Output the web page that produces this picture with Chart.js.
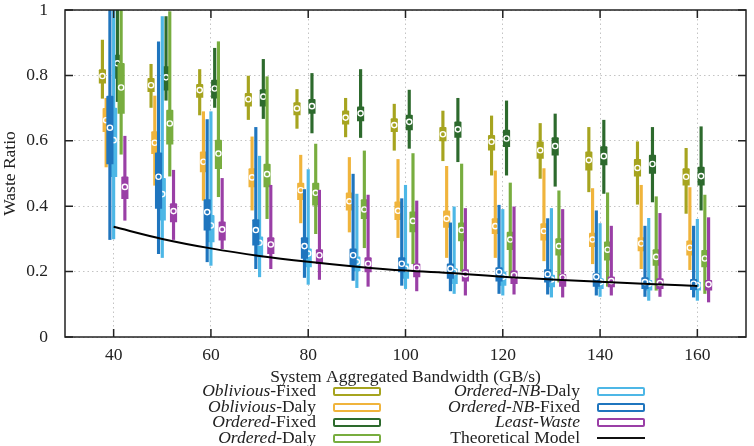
<!DOCTYPE html>
<html>
<head>
<meta charset="utf-8">
<script src="https://cdn.jsdelivr.net/npm/chart.js@4/dist/chart.umd.min.js"></script>
<style>
  body { margin: 0; background: #fff; }
  #wrap { position: relative; width: 754px; height: 446px; }
  #chart { position: absolute; left: 0; top: 0; }
  .lt { position: absolute; left: 0; text-align: right; font: 17.5px "Liberation Serif", "DejaVu Serif", serif; color: #222; line-height: 16px; white-space: nowrap; }
  .sw { position: absolute; width: 44px; height: 5px; border: 2px solid; border-radius: 2px; background: #fff; }
  .ln { position: absolute; width: 48px; height: 2px; background: #111; }
</style>
</head>
<body>
<div id="wrap">
  <canvas id="chart" width="754" height="446"></canvas>
  <div id="legend"></div>
</div>
<script>
// ---------- Data ----------
const xGroups = [40, 50, 60, 70, 80, 90, 100, 110, 120, 130, 140, 150, 160];
const xTicks = [40, 60, 80, 100, 120, 140, 160];
const yTicks = [0, 0.2, 0.4, 0.6, 0.8, 1];

// each entry: [min, q1, median, q3, max]
const obliviousFixed = [
  [0.730, 0.776, 0.798, 0.818, 0.908], [0.702, 0.750, 0.770, 0.791, 0.834], [0.679, 0.733, 0.755, 0.773, 0.818],
  [0.665, 0.706, 0.727, 0.745, 0.798], [0.638, 0.679, 0.699, 0.717, 0.757], [0.612, 0.651, 0.671, 0.692, 0.730],
  [0.571, 0.628, 0.648, 0.668, 0.712], [0.539, 0.600, 0.620, 0.641, 0.691], [0.495, 0.571, 0.597, 0.617, 0.676],
  [0.485, 0.546, 0.571, 0.597, 0.653], [0.444, 0.510, 0.541, 0.566, 0.641], [0.406, 0.492, 0.517, 0.543, 0.597],
  [0.378, 0.464, 0.490, 0.515, 0.577]
];
const obliviousDaly = [
  [0.520, 0.628, 0.663, 0.699, 0.730], [0.464, 0.561, 0.594, 0.628, 0.737], [0.418, 0.505, 0.536, 0.566, 0.689],
  [0.388, 0.459, 0.488, 0.515, 0.612], [0.349, 0.420, 0.449, 0.471, 0.556], [0.321, 0.388, 0.415, 0.441, 0.549],
  [0.304, 0.359, 0.386, 0.413, 0.543], [0.243, 0.335, 0.362, 0.386, 0.522], [0.243, 0.316, 0.339, 0.362, 0.508],
  [0.233, 0.296, 0.324, 0.347, 0.515], [0.224, 0.276, 0.298, 0.318, 0.454], [0.209, 0.263, 0.286, 0.304, 0.464],
  [0.206, 0.250, 0.273, 0.294, 0.457]
];
const orderedFixed = [
  [0.720, 0.791, 0.837, 0.862, 1.050], [0.724, 0.755, 0.794, 0.827, 0.980], [0.702, 0.730, 0.760, 0.786, 0.883],
  [0.668, 0.706, 0.735, 0.757, 0.849], [0.624, 0.684, 0.706, 0.727, 0.806], [0.610, 0.661, 0.684, 0.704, 0.818],
  [0.577, 0.633, 0.658, 0.679, 0.755], [0.536, 0.610, 0.635, 0.658, 0.730], [0.495, 0.582, 0.607, 0.633, 0.722],
  [0.461, 0.556, 0.584, 0.610, 0.682], [0.439, 0.526, 0.553, 0.582, 0.663], [0.413, 0.500, 0.529, 0.556, 0.641],
  [0.388, 0.464, 0.492, 0.520, 0.643]
];
const orderedDaly = [
  [0.559, 0.684, 0.763, 0.837, 1.050], [0.492, 0.590, 0.653, 0.694, 0.995], [0.429, 0.515, 0.561, 0.602, 0.903],
  [0.362, 0.459, 0.498, 0.529, 0.796], [0.316, 0.403, 0.441, 0.471, 0.590], [0.273, 0.362, 0.390, 0.420, 0.569],
  [0.224, 0.321, 0.355, 0.383, 0.561], [0.202, 0.294, 0.327, 0.349, 0.529], [0.186, 0.267, 0.298, 0.321, 0.471],
  [0.168, 0.250, 0.278, 0.301, 0.447], [0.155, 0.235, 0.267, 0.291, 0.441], [0.143, 0.219, 0.245, 0.267, 0.429],
  [0.133, 0.214, 0.240, 0.265, 0.434]
];
const orderedNbDaly = [
  [0.300, 0.490, 0.602, 0.700, 1.050], [0.243, 0.357, 0.437, 0.485, 0.980], [0.219, 0.291, 0.341, 0.372, 0.689],
  [0.184, 0.245, 0.288, 0.306, 0.553], [0.161, 0.214, 0.255, 0.270, 0.512], [0.151, 0.202, 0.230, 0.245, 0.437],
  [0.148, 0.179, 0.209, 0.224, 0.464], [0.133, 0.163, 0.199, 0.209, 0.398], [0.128, 0.158, 0.184, 0.199, 0.390],
  [0.122, 0.153, 0.176, 0.189, 0.393], [0.124, 0.148, 0.168, 0.179, 0.347], [0.112, 0.143, 0.163, 0.173, 0.363],
  [0.112, 0.143, 0.158, 0.168, 0.360]
];
const orderedNbFixed = [
  [0.298, 0.529, 0.640, 0.737, 1.050], [0.255, 0.393, 0.490, 0.563, 0.903], [0.230, 0.327, 0.382, 0.420, 0.665],
  [0.209, 0.281, 0.327, 0.359, 0.641], [0.182, 0.240, 0.278, 0.304, 0.451], [0.173, 0.219, 0.250, 0.270, 0.498],
  [0.158, 0.199, 0.224, 0.243, 0.423], [0.141, 0.179, 0.209, 0.224, 0.349], [0.133, 0.171, 0.199, 0.212, 0.403],
  [0.131, 0.168, 0.192, 0.206, 0.362], [0.128, 0.155, 0.184, 0.194, 0.386], [0.124, 0.148, 0.168, 0.182, 0.339],
  [0.122, 0.145, 0.163, 0.176, 0.339]
];
const leastWaste = [
  [0.357, 0.423, 0.459, 0.490, 0.614], [0.298, 0.352, 0.385, 0.408, 0.510], [0.270, 0.296, 0.329, 0.352, 0.485],
  [0.209, 0.255, 0.283, 0.304, 0.464], [0.176, 0.224, 0.250, 0.267, 0.449], [0.155, 0.199, 0.224, 0.243, 0.434],
  [0.141, 0.184, 0.212, 0.224, 0.416], [0.128, 0.171, 0.192, 0.206, 0.393], [0.131, 0.163, 0.189, 0.202, 0.398],
  [0.122, 0.155, 0.182, 0.192, 0.390], [0.128, 0.153, 0.171, 0.184, 0.339], [0.124, 0.148, 0.165, 0.179, 0.378],
  [0.107, 0.143, 0.161, 0.173, 0.365]
];
const theoreticalModel = [0.337, 0.300, 0.271, 0.248, 0.230, 0.215, 0.203, 0.195, 0.184, 0.176, 0.169, 0.162, 0.156];

// legend order
const seriesStats = [obliviousFixed, obliviousDaly, orderedFixed, orderedDaly, orderedNbDaly, orderedNbFixed, leastWaste];
const seriesItalic = ["Oblivious", "Oblivious", "Ordered", "Ordered", "Ordered-NB", "Ordered-NB", "Least-Waste"];
const seriesSuffix = ["-Fixed", "-Daly", "-Fixed", "-Daly", "-Daly", "-Fixed", ""];
const seriesColors = ["#a6a41f", "#f0b43c", "#2d6a2d", "#78ad3f", "#4db7e6", "#1f75be", "#9a3fa6"];
const seriesSlot = [-3, -2, 1, 2, 0, -1, 3];   // position inside a group
const slotStep = 0.77;

// ---------- Datasets ----------
const datasets = [];
seriesStats.forEach((stats, k) => {
  const off = seriesSlot[k] * slotStep;
  const base = (7 - k) * 10;
  const label = seriesItalic[k] + seriesSuffix[k];
  datasets.push({
    type: "bar", label, grouped: false, barThickness: 2.5,
    backgroundColor: seriesColors[k], order: base + 3,
    data: xGroups.map((g, i) => ({ x: g + off, y: [stats[i][0], stats[i][4]] }))
  });
  datasets.push({
    type: "bar", label, grouped: false, barThickness: 6.5, borderRadius: 1,
    backgroundColor: seriesColors[k], order: base + 2,
    data: xGroups.map((g, i) => ({ x: g + off, y: [stats[i][1], stats[i][3]] }))
  });
  datasets.push({
    type: "scatter", label, order: base + 1,
    pointRadius: 2.6, pointBorderWidth: 1.4, pointBorderColor: "#fff", pointBackgroundColor: seriesColors[k],
    data: xGroups.map((g, i) => ({ x: g + off, y: stats[i][2] }))
  });
});
datasets.push({
  type: "line", label: "Theoretical Model", order: 0,
  borderColor: "#000", borderWidth: 2, pointRadius: 0, cubicInterpolationMode: "monotone",
  data: xGroups.map((g, i) => ({ x: g, y: theoreticalModel[i] }))
});

// ---------- Frame with inward ticks ----------
const frame = {
  id: "frame",
  afterDatasetsDraw(chart) {
    const { ctx, chartArea: a, scales: { x, y } } = chart;
    ctx.save();
    ctx.strokeStyle = "#222";
    ctx.lineWidth = 1.5;
    ctx.beginPath();
    x.ticks.forEach(t => {
      const px = x.getPixelForValue(t.value);
      ctx.moveTo(px, a.bottom); ctx.lineTo(px, a.bottom - 8);
      ctx.moveTo(px, a.top); ctx.lineTo(px, a.top + 8);
    });
    y.ticks.forEach(t => {
      const py = y.getPixelForValue(t.value);
      ctx.moveTo(a.left, py); ctx.lineTo(a.left + 8, py);
      ctx.moveTo(a.right, py); ctx.lineTo(a.right - 8, py);
    });
    ctx.stroke();
    ctx.strokeRect(a.left, a.top, a.width, a.height);
    ctx.restore();
  }
};

const serif = "'Liberation Serif', 'DejaVu Serif', serif";
Chart.defaults.font.family = serif;
Chart.defaults.font.size = 17.5;
Chart.defaults.color = "#222";

new Chart(document.getElementById("chart"), {
  type: "bar",
  data: { datasets },
  options: {
    responsive: false,
    animation: false,
    devicePixelRatio: 1,
    layout: { padding: { left: 0, right: 8, top: 10, bottom: 58 } },
    plugins: { legend: { display: false }, tooltip: { enabled: false } },
    scales: {
      x: {
        type: "linear", min: 30, max: 170, offset: false,
        afterBuildTicks: s => { s.ticks = xTicks.map(v => ({ value: v })); },
        afterFit: s => { s.height = 51; s.paddingLeft = 0; s.paddingRight = 0; },
        grid: { offset: false, drawTicks: false, color: "#c4c4c4", lineWidth: 1 },
        border: { display: false, dash: [1.5, 3] },
        ticks: { padding: 8 },
        title: { display: true, text: "System Aggregated Bandwidth (GB/s)", padding: 0 }
      },
      y: {
        min: 0, max: 1,
        afterBuildTicks: s => { s.ticks = yTicks.map(v => ({ value: v })); },
        afterFit: s => { s.width = 65; s.paddingTop = 0; s.paddingBottom = 0; },
        grid: { drawTicks: false, color: "#c4c4c4", lineWidth: 1 },
        border: { display: false, dash: [1.5, 3] },
        ticks: { padding: 17, callback: v => String(+v.toFixed(2)) },
        title: { display: true, text: "Waste Ratio", padding: 0 }
      }
    }
  },
  plugins: [frame]
});

// ---------- Legend ----------
const legendRows = [391.5, 407, 422.5, 438];
const legend = document.getElementById("legend");
function addEntry(col, row, html, color) {
  const cy = legendRows[row];
  const textRight = col === 0 ? 316 : 580;
  const swLeft = col === 0 ? 333 : 597;
  const t = document.createElement("div");
  t.className = "lt";
  t.style.width = textRight + "px";
  t.style.top = (cy - 9.5) + "px";
  t.innerHTML = html;
  legend.appendChild(t);
  const s = document.createElement("div");
  if (color) {
    s.className = "sw";
    s.style.borderColor = color;
    s.style.left = swLeft + "px";
    s.style.top = (cy - 4.5) + "px";
  } else {
    s.className = "ln";
    s.style.left = swLeft + "px";
    s.style.top = (cy - 1) + "px";
  }
  legend.appendChild(s);
}
seriesStats.forEach((_, k) => {
  const col = k < 4 ? 0 : 1;
  const row = k < 4 ? k : k - 4;
  addEntry(col, row, `<i>${seriesItalic[k]}</i>${seriesSuffix[k]}`, seriesColors[k]);
});
addEntry(1, 3, "Theoretical Model", null);
</script>
</body>
</html>
